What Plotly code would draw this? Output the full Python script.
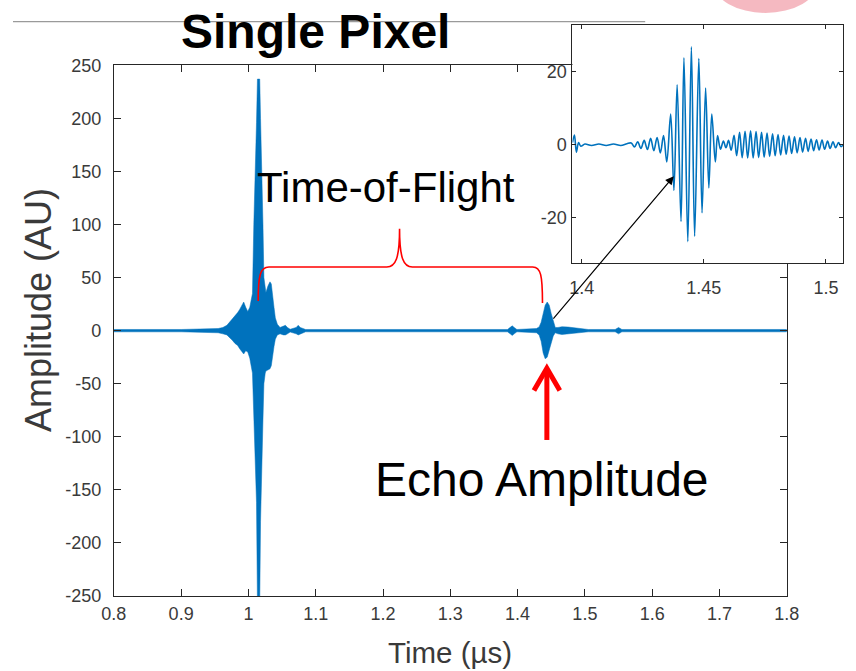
import plotly.graph_objects as go

# ---------------- data ----------------
# main trace: envelope of the dense waveform (time in us, amplitude in AU)
env_t = [0.800, 0.900, 0.955, 0.962, 0.968, 0.972, 0.976, 0.980, 0.984, 0.987,
         0.990, 0.993, 0.996, 0.999, 1.002, 1.004, 1.006, 1.008, 1.0096, 1.012,
         1.0134, 1.0168, 1.018, 1.0201, 1.0216, 1.023, 1.025, 1.026, 1.029, 1.032,
         1.034, 1.036, 1.038, 1.040, 1.043, 1.047, 1.052, 1.055, 1.058, 1.062,
         1.071, 1.074, 1.077, 1.085, 1.385, 1.389, 1.392, 1.395, 1.399, 1.428,
         1.432, 1.435, 1.438, 1.441, 1.444, 1.447, 1.450, 1.453, 1.456, 1.460,
         1.466, 1.475, 1.485, 1.495, 1.505, 1.545, 1.550, 1.555, 1.800]
env_hi = [1.1, 1.1, 2, 3, 5, 8, 10, 14, 17, 20,
          24, 27, 22, 18, 22, 28, 35, 100, 152, 196,
          237, 237, 200, 152, 100, 50, 38, 36, 42, 46,
          44, 35, 22, 12, 6, 3, 4, 5, 3, 1.3,
          3, 5, 3, 1.1, 1.1, 3, 4.5, 3, 1.1, 2,
          3.5, 8, 16, 24, 27, 24, 16, 8, 3, 3,
          3.7, 3.4, 2.5, 1.8, 1.1, 1.1, 3, 1.1, 1.1]
env_lo = [-1.1, -1.1, -2, -3, -4, -6, -9, -12, -14, -17,
          -20, -22, -19, -20, -26, -33, -40, -84, -120, -162,
          -256, -256, -180, -120, -84, -50, -40, -38, -37, -36,
          -33, -25, -15, -8, -4, -3, -4, -4, -3, -1.3,
          -3, -4, -3, -1.1, -1.1, -3, -4.5, -3, -1.1, -2,
          -4, -10, -21, -26.5, -25, -19, -12, -5, -2, -3,
          -3.6, -3.4, -2.5, -1.8, -1.1, -1.1, -3, -1.1, -1.1]

# inset trace: individual oscillation extremes of the echo
inset_t = [1.3962, 1.3970, 1.3978, 1.3987, 1.3996, 1.4013, 1.4040, 1.4070, 1.4100, 1.4130,
           1.4160, 1.4185, 1.42026, 1.42159, 1.42291, 1.42424, 1.42556, 1.42689, 1.42821, 1.42954,
           1.43086, 1.43219, 1.43351, 1.43483, 1.43642, 1.43775, 1.43907, 1.44066, 1.44185, 1.44344,
           1.44490, 1.44623, 1.44795, 1.44927, 1.45073, 1.45205, 1.45325, 1.45470, 1.45563, 1.45682,
           1.45801, 1.45907, 1.46013, 1.46119, 1.46238, 1.46344, 1.46464, 1.46570, 1.46689, 1.46795,
           1.46914, 1.47020, 1.47139, 1.47245, 1.47364, 1.47470, 1.47589, 1.47695, 1.47815, 1.47921,
           1.48040, 1.48146, 1.48265, 1.48371, 1.48490, 1.48596, 1.48715, 1.48821, 1.48940, 1.49046,
           1.49166, 1.49272, 1.49391, 1.49497, 1.49616, 1.49722, 1.49841, 1.49947, 1.50066, 1.50172,
           1.50291, 1.50397, 1.50517, 1.50623, 1.50742]
inset_v = [0.6, 2.7, -2.0, 0.6, -0.4, 0.2, -0.2, 0.2, -0.2, 0.2,
           -0.2, 0.3, 0.5, -0.6, 0.8, -1.0, 1.2, -1.3, 1.8, -1.6,
           2.0, -2.2, 2.5, -4.7, 8.4, -12.5, 16.4, -21.0, 23.8, -26.5,
           26.8, -25.0, 23.6, -18.6, 15.5, -11.8, 8.4, -4.7, 2.5, -1.2,
           1.0, -0.8, 1.2, -1.5, 2.6, -3.0, 3.4, -3.5, 3.7, -3.6,
           3.8, -3.6, 3.6, -3.5, 3.4, -3.4, 3.2, -3.2, 3.0, -3.0,
           2.8, -2.8, 2.6, -2.6, 2.4, -2.4, 2.2, -2.2, 2.0, -2.0,
           1.8, -1.8, 1.6, -1.6, 1.4, -1.4, 1.3, -1.2, 1.0, -1.0,
           0.8, -0.8, 0.6, -0.5, 0.3]

x_ticks = [0.8, 0.9, 1.0, 1.1, 1.2, 1.3, 1.4, 1.5, 1.6, 1.7, 1.8]
x_ticklabels = ["0.8", "0.9", "1", "1.1", "1.2", "1.3", "1.4", "1.5", "1.6", "1.7", "1.8"]
y_ticks = [-250, -200, -150, -100, -50, 0, 50, 100, 150, 200, 250]
y_ticklabels = ["-250", "-200", "-150", "-100", "-50", "0", "50", "100", "150", "200", "250"]
inset_x_ticks = [1.4, 1.45, 1.5]
inset_x_ticklabels = ["1.4", "1.45", "1.5"]
inset_y_ticks = [-20, 0, 20]
inset_y_ticklabels = ["-20", "0", "20"]

# ---------------- figure ----------------
W, H = 856, 671
FONT = "Liberation Sans, Arial, sans-serif"
BLUE = "#0072BD"
AXC = "#262626"
TICKC = "#3a3a3a"

# plot boxes in pixels (left, right, top, bottom)
MAIN = (104, 798, 57, 604)
MAIN_XR, MAIN_YR = [0.8, 1.8], [-250, 250]
INS = (577, 856, 15, 261)
INS_XR, INS_YR = [1.3962, 1.5070], [-32.4, 32.9]


def px(x):
    return x / W


def py(y):
    return 1 - y / H


def to_px(box, xr, yr, xv, yv):
    l, r, t, b = box
    return (l + (xv - xr[0]) / (xr[1] - xr[0]) * (r - l),
            b - (yv - yr[0]) / (yr[1] - yr[0]) * (b - t))


fig = go.Figure()
fig.add_trace(go.Scatter(
    x=env_t + env_t[::-1], y=env_hi + env_lo[::-1],
    fill="toself", fillcolor=BLUE, mode="lines",
    line=dict(color=BLUE, width=0.5), xaxis="x", yaxis="y",
    hoverinfo="skip", showlegend=False))
fig.add_trace(go.Scatter(
    x=inset_t, y=inset_v, mode="lines",
    line=dict(color=BLUE, width=1.6, shape="spline", smoothing=1.0),
    xaxis="x2", yaxis="y2", showlegend=False))

axis_common = dict(showline=True, linecolor=AXC, linewidth=1, mirror="ticks",
                   ticks="inside", tickcolor=AXC, tickwidth=1, showgrid=False,
                   zeroline=False, tickfont=dict(family=FONT, size=18, color=TICKC))

fig.update_layout(
    width=W, height=H, autosize=False,
    margin=dict(l=0, r=0, t=0, b=0),
    paper_bgcolor="white", plot_bgcolor="white",
    xaxis=dict(domain=[px(MAIN[0]), px(MAIN[1])], range=MAIN_XR, tickmode="array",
               tickvals=x_ticks, ticktext=x_ticklabels, ticklen=7,
               ticklabelstandoff=1, anchor="y", **axis_common),
    yaxis=dict(domain=[py(MAIN[3]), py(MAIN[2])], range=MAIN_YR, tickmode="array",
               tickvals=y_ticks, ticktext=y_ticklabels, ticklen=7,
               ticklabelstandoff=8, anchor="x", **axis_common),
    xaxis2=dict(domain=[px(INS[0]), px(INS[1])], range=INS_XR, tickmode="array",
                tickvals=inset_x_ticks, ticktext=inset_x_ticklabels, ticklen=4,
                ticklabelstandoff=8, anchor="y2", **axis_common),
    yaxis2=dict(domain=[py(INS[3]), py(INS[2])], range=INS_YR, tickmode="array",
                tickvals=inset_y_ticks, ticktext=inset_y_ticklabels, ticklen=4,
                ticklabelstandoff=1, anchor="x2", **axis_common),
)

shapes = []
# slide decoration line at top
shapes.append(dict(type="line", xref="paper", yref="paper", x0=0, x1=px(652),
                   y0=py(12), y1=py(12), line=dict(color="#9a9a9a", width=1.2), layer="below"))
# faint red blob at top right edge
shapes.append(dict(type="circle", xref="paper", yref="paper", x0=px(722), x1=px(830),
                   y0=py(3), y1=py(-60), fillcolor="rgba(230,80,100,0.4)",
                   line=dict(width=0), layer="below"))
# red curly brace (data coords of main axes)
brace = ("M 1.0145,28 C 1.0145,52 1.0175,60 1.0305,60 "
         "L 1.2056,60 C 1.2186,60 1.2246,68 1.2246,96 "
         "C 1.2246,68 1.2306,60 1.2436,60 "
         "L 1.4225,60 C 1.4345,60 1.437,52 1.437,26")
shapes.append(dict(type="path", xref="x", yref="y", path=brace,
                   line=dict(color="#ff0000", width=1.6)))
# red arrow (echo amplitude), data coords of main axes
shapes.append(dict(type="line", xref="x", yref="y", x0=1.4435, x1=1.4435,
                   y0=-103, y1=-37, line=dict(color="#ff0000", width=5)))
shapes.append(dict(type="path", xref="x", yref="y",
                   path="M 1.4243,-56.5 L 1.4435,-35.5 L 1.4627,-56.5",
                   line=dict(color="#ff0000", width=5)))
fig.update_layout(shapes=shapes)

ann = []
ann.append(dict(text="<b>Single Pixel</b>", x=px(311.5), y=py(22), xref="paper", yref="paper",
                showarrow=False, xanchor="center", yanchor="middle",
                font=dict(family=FONT, size=48, color="black")))
ann.append(dict(text="Time-of-Flight", x=px(385), y=py(183), xref="paper", yref="paper",
                showarrow=False, xanchor="center", yanchor="middle",
                font=dict(family=FONT, size=42, color="black")))
ann.append(dict(text="Echo Amplitude", x=px(546), y=py(484), xref="paper", yref="paper",
                showarrow=False, xanchor="center", yanchor="middle",
                font=dict(family=FONT, size=48, color="black")))
ann.append(dict(text="Time (µs)", x=px(451), y=py(662), xref="paper", yref="paper",
                showarrow=False, xanchor="center", yanchor="middle",
                font=dict(family=FONT, size=29.5, color=TICKC)))
ann.append(dict(text="Amplitude (AU)", x=px(27), y=py(309), xref="paper", yref="paper",
                showarrow=False, xanchor="center", yanchor="middle", textangle=-90,
                font=dict(family=FONT, size=36, color=TICKC)))
# black arrow from the echo in the main plot into the inset
tip_x, tip_y = to_px(INS, INS_XR, INS_YR, 1.4377, -8.6)
tail_x, tail_y = to_px(MAIN, MAIN_XR, MAIN_YR, 1.4568, 14)
ann.append(dict(text="", x=1.4377, y=-8.6, xref="x2", yref="y2",
                showarrow=True, ax=tail_x - tip_x, ay=tail_y - tip_y,
                axref="pixel", ayref="pixel",
                arrowhead=2, arrowsize=1.4, arrowwidth=1.2, arrowcolor="black", standoff=0))
fig.update_layout(annotations=ann)

fig.write_html("out.html", config={"displayModeBar": False},
               post_script="document.body.style.margin='0';document.body.style.overflow='hidden';")
